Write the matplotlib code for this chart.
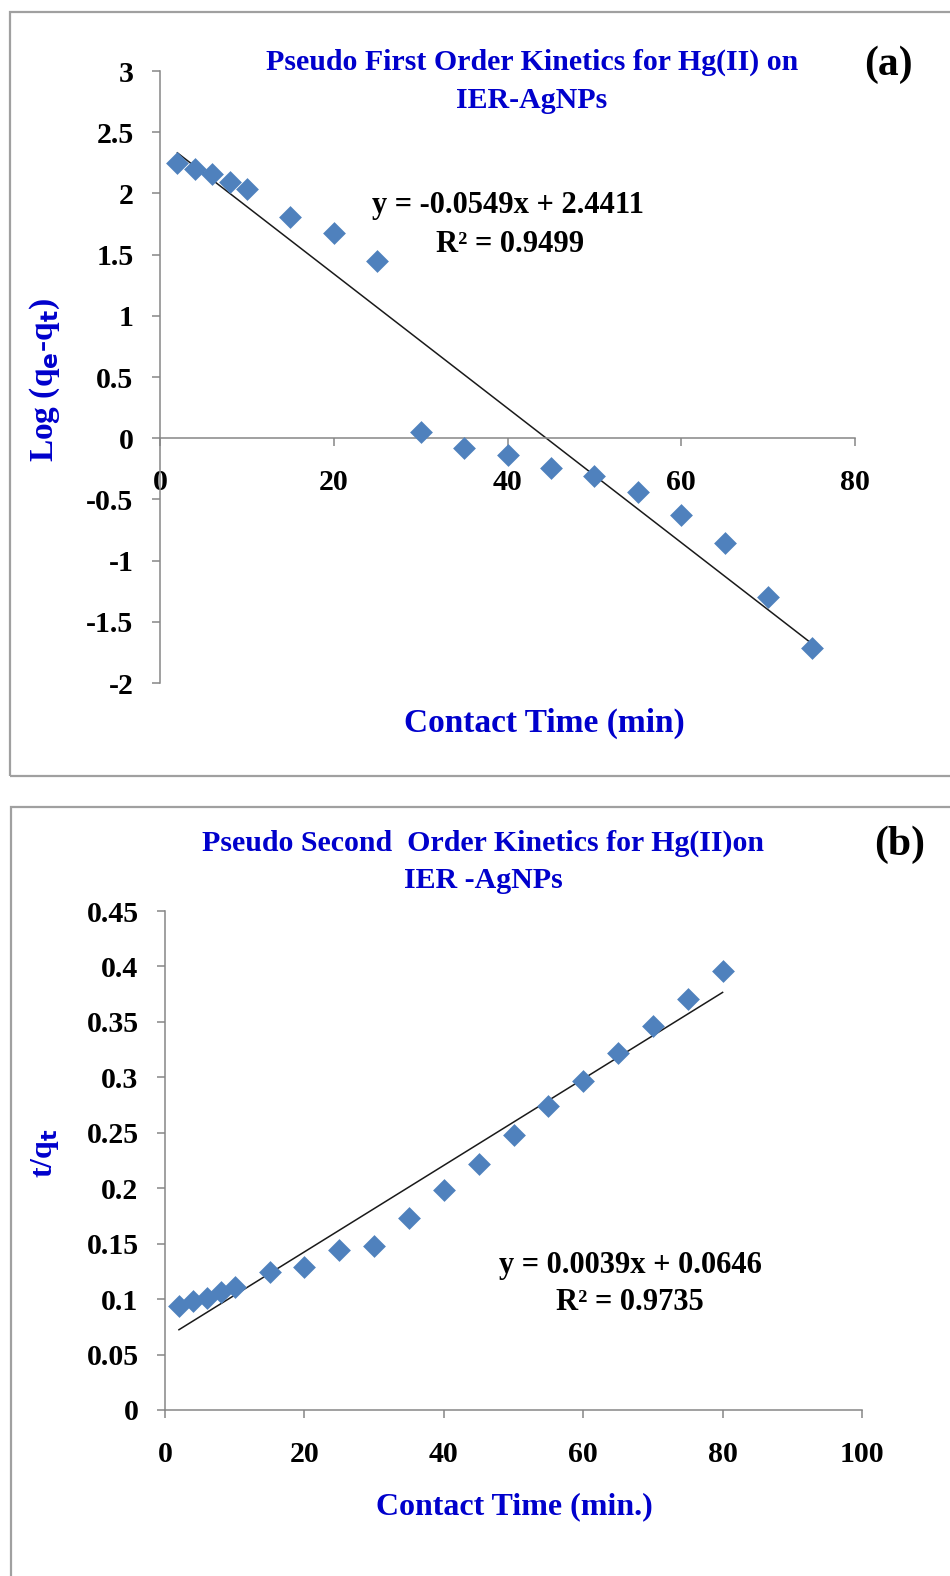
import numpy as np
import matplotlib
matplotlib.use('Agg')
import matplotlib.pyplot as plt
from matplotlib.patches import Rectangle

plt.rcParams['font.family'] = ['Liberation Serif', 'DejaVu Serif']
plt.rcParams['font.weight'] = 'bold'

# (a) pseudo first order
time_a = [2, 4, 6, 8, 10, 15, 20, 25, 30, 35, 40, 45, 50, 55, 60, 65, 70, 75]
log_qe_qt = [2.25, 2.20, 2.16, 2.09, 2.04, 1.81, 1.68, 1.45, 0.05, -0.08,
             -0.14, -0.24, -0.31, -0.44, -0.63, -0.86, -1.30, -1.71]
slope_a, icpt_a = -0.0549, 2.4411

# (b) pseudo second order
time_b = [2, 4, 6, 8, 10, 15, 20, 25, 30, 35, 40, 45, 50, 55, 60, 65, 70, 75, 80]
t_qt = [0.094, 0.098, 0.101, 0.106, 0.111, 0.124, 0.129, 0.144, 0.148, 0.173,
        0.198, 0.222, 0.248, 0.274, 0.297, 0.322, 0.346, 0.371, 0.396]
slope_b, icpt_b = 0.0039, 0.0646

W, H = 950, 1576
blue = '#0000cc'
pt_col = '#4f81bd'
spine_col = '#868686'

fig = plt.figure(figsize=(W / 100, H / 100), dpi=100)


def fx(px):
    return px / W


def fy(py):
    return 1 - py / H


# panel borders
fig.patches.append(Rectangle((fx(10), fy(776)), fx(960) - fx(10), fy(12) - fy(776),
                             transform=fig.transFigure, fill=False,
                             edgecolor='#a0a0a0', lw=1.6))
fig.patches.append(Rectangle((fx(11), fy(1590)), fx(960) - fx(11), fy(807) - fy(1590),
                             transform=fig.transFigure, fill=False,
                             edgecolor='#a0a0a0', lw=1.6))


def style(ax):
    for s in ['top', 'right']:
        ax.spines[s].set_visible(False)
    for s in ['left', 'bottom']:
        ax.spines[s].set_color(spine_col)
        ax.spines[s].set_linewidth(1.1)
    ax.tick_params(axis='both', direction='out', length=6, width=1.1,
                   color=spine_col, labelsize=21.5)
    ax.tick_params(axis='y', pad=13)
    ax.tick_params(axis='x', pad=16)


# ---- (a)
ax1 = fig.add_axes([fx(160), fy(683), fx(855) - fx(160), fy(71) - fy(683)])
ax1.scatter(time_a, log_qe_qt, marker='D', s=135, color=pt_col, zorder=3, linewidths=0)
xa = np.array([time_a[0], time_a[-1]])
ax1.plot(xa, slope_a * xa + icpt_a, color='#1a1a1a', lw=1.1)
ax1.set_xlim(0, 80)
ax1.set_ylim(-2, 3)
ax1.set_xticks([0, 20, 40, 60, 80])
ax1.set_yticks([-2, -1.5, -1, -0.5, 0, 0.5, 1, 1.5, 2, 2.5, 3])
ax1.set_yticklabels(['-2', '-1.5', '-1', '-0.5', '0', '0.5', '1', '1.5', '2', '2.5', '3'])
style(ax1)
ax1.spines['bottom'].set_position(('data', 0))

fig.text(fx(532), fy(62), 'Pseudo First Order Kinetics for Hg(II) on',
         color=blue, fontsize=21.5, ha='center', va='center')
fig.text(fx(532), fy(101), 'IER-AgNPs', color=blue, fontsize=21.5, ha='center', va='center')
fig.text(fx(888), fy(65), '(a)', color='black', fontsize=30, ha='center', va='center')
fig.text(fx(508), fy(205), 'y = -0.0549x + 2.4411', fontsize=22, ha='center', va='center')
fig.text(fx(510), fy(244), 'R² = 0.9499', fontsize=22, ha='center', va='center')
fig.text(fx(544), fy(723), 'Contact Time (min)', color=blue, fontsize=24,
         ha='center', va='center')
fig.text(fx(45), fy(380), r'Log (q$_\mathbf{e}$-q$_\mathbf{t}$)', color=blue, fontsize=24,
         ha='center', va='center', rotation=90)

# ---- (b)
ax2 = fig.add_axes([fx(165), fy(1410), fx(862) - fx(165), fy(911) - fy(1410)])
ax2.scatter(time_b, t_qt, marker='D', s=135, color=pt_col, zorder=3, linewidths=0)
xb = np.array([time_b[0], time_b[-1]])
ax2.plot(xb, slope_b * xb + icpt_b, color='#1a1a1a', lw=1.1)
ax2.set_xlim(0, 100)
ax2.set_ylim(0, 0.45)
ax2.set_xticks([0, 20, 40, 60, 80, 100])
ax2.set_yticks([0, 0.05, 0.1, 0.15, 0.2, 0.25, 0.3, 0.35, 0.4, 0.45])
ax2.set_yticklabels(['0', '0.05', '0.1', '0.15', '0.2', '0.25', '0.3', '0.35', '0.4', '0.45'])
style(ax2)

fig.text(fx(483), fy(843), 'Pseudo Second  Order Kinetics for Hg(II)on',
         color=blue, fontsize=21.5, ha='center', va='center')
fig.text(fx(483), fy(880), 'IER -AgNPs', color=blue, fontsize=21.5, ha='center', va='center')
fig.text(fx(900), fy(845), '(b)', color='black', fontsize=30, ha='center', va='center')
fig.text(fx(630), fy(1265), 'y = 0.0039x + 0.0646', fontsize=22, ha='center', va='center')
fig.text(fx(630), fy(1302), 'R² = 0.9735', fontsize=22, ha='center', va='center')
fig.text(fx(514), fy(1507), 'Contact Time (min.)', color=blue, fontsize=23,
         ha='center', va='center')
fig.text(fx(45), fy(1153), r't/q$_\mathbf{t}$', color=blue, fontsize=23,
         ha='center', va='center', rotation=90)

fig.savefig('out.png', dpi=100)
